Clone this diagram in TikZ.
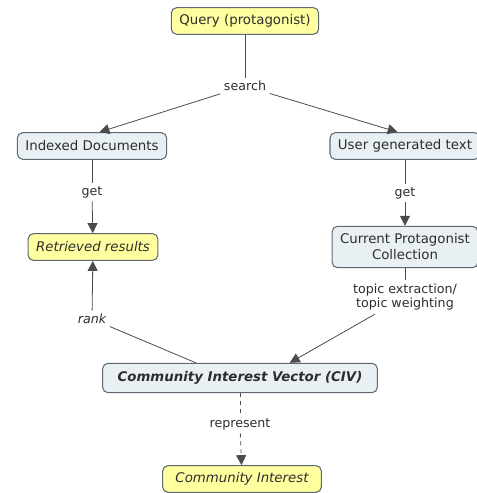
\documentclass[tikz,border=0pt]{standalone}
\usepackage{fontspec}
\setmainfont{DejaVu Sans}
\usepackage{tikz}
\definecolor{conceptyellow}{RGB}{255, 255, 160}
\definecolor{conceptblue}{RGB}{233, 240, 243}
\definecolor{conceptborder}{RGB}{95, 105, 118}
\definecolor{textgrey}{RGB}{45, 45, 45}
\usetikzlibrary{arrows.meta, positioning}

\begin{document}
\begin{tikzpicture}[
    x=0.75pt, y=-0.75pt,
    concept/.style={rectangle, draw=conceptborder, fill=conceptblue, rounded corners=4pt, line width=0.8pt, minimum height=20pt, inner xsep=6pt, align=center, text=textgrey, font=\fontsize{10}{12}\selectfont},
    result/.style={concept, fill=conceptyellow},
    phrase/.style={align=center, inner sep=2.5pt, text=textgrey, font=\fontsize{9.5}{11}\selectfont},
    link/.style={draw=textgrey!85, line width=0.6pt},
    linkarrow/.style={link, -{Triangle[width=7.5pt, length=7.5pt]}}
]
    \useasboundingbox (0,0) rectangle (476,493);

    \node[result] (query) at (245,21) {Query (protagonist)};
    \node[phrase] (search) at (245,86) {search};

    \node[concept] (indexed) at (92,146) {Indexed Documents};
    \node[concept] (usertext) at (405,146) {User generated text};

    \node[phrase] (getleft) at (92,192) {get};
    \node[phrase] (getright) at (405,193) {get};

    \node[result, font=\fontsize{10}{12}\selectfont\itshape] (retrieved) at (93,247) {Retrieved results};
    \node[concept, minimum height=31pt] (collection) at (405,247) {Current Protagonist\\Collection};

    \node[phrase, font=\fontsize{9.5}{11}\selectfont\itshape] (rank) at (92,319) {rank};
    \node[phrase] (topic) at (405,297) {topic extraction/\\topic weighting};

    \node[concept, minimum width=206pt, minimum height=22pt, font=\fontsize{10}{12}\selectfont\bfseries\itshape] (civ) at (240,378) {Community Interest Vector (CIV)};
    \node[phrase] (represent) at (240,424) {represent};
    \node[result, minimum width=119pt, font=\fontsize{10}{12}\selectfont\itshape] (interest) at (242,479) {Community Interest};

    \draw[link] (query) -- (search);
    \draw[linkarrow] (search) -- (indexed.62);
    \draw[linkarrow] (search) -- (usertext.118);

    \draw[link] (indexed) -- (getleft);
    \draw[linkarrow] (getleft) -- (retrieved);
    \draw[link] (usertext) -- (getright);
    \draw[linkarrow] (getright) -- (collection);

    \draw[link] (collection) -- (topic);
    \draw[linkarrow] (topic) -- (civ.17);
    \draw[link] (civ.161) -- (rank);
    \draw[linkarrow] (rank) -- (retrieved);

    \draw[link, dashed] (civ) -- (represent);
    \draw[linkarrow, dashed] (represent) -- (interest);
\end{tikzpicture}
\end{document}
